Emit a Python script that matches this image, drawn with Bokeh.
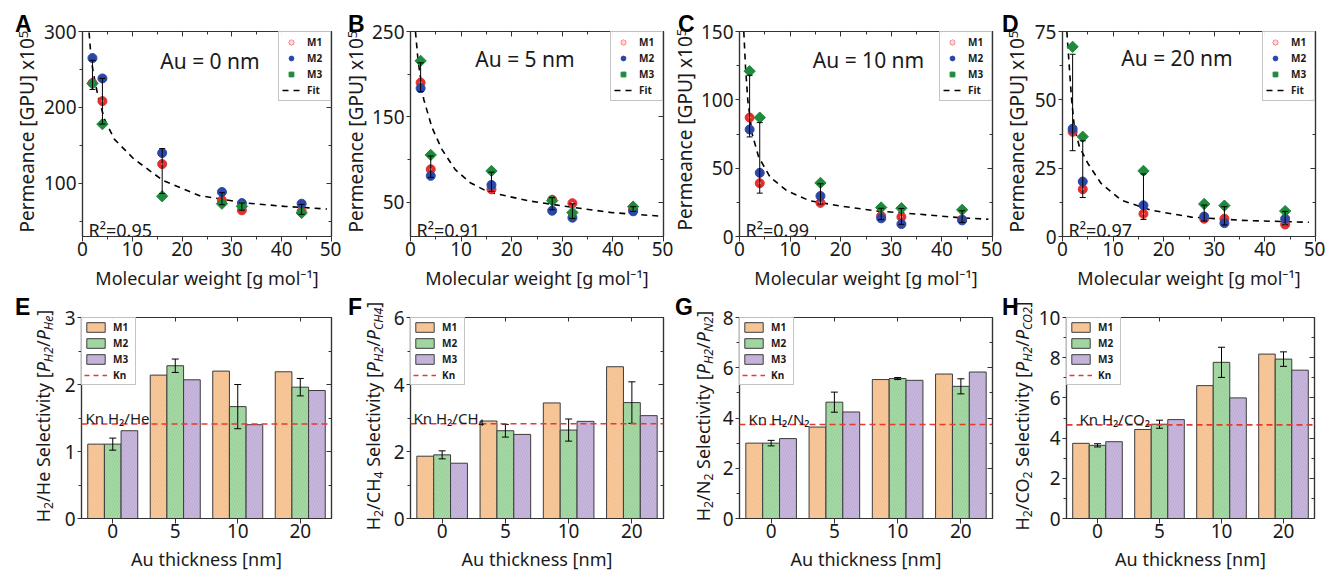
import math
import numpy as np
from bokeh.plotting import figure
from bokeh.layouts import row, column
from bokeh.models import (ColumnDataSource, Whisker, TeeHead, Label, Legend, LegendItem,
                          Span, FixedTicker, LinearAxis, CategoricalAxis, FactorRange, Range1d,
                          CustomLabelingPolicy, Div)
from bokeh.transform import dodge
from bokeh.embed import file_html
from bokeh.resources import INLINE

FONT = "Noto Sans"
LFONT = "Liberation Sans"
TXT = "#1a1a1a"
AX = "#333333"

# ---------------- permeance vs molecular weight (A-D) ----------------
mol_weight = [2, 4, 16, 28, 32, 44]
mw_lim = [0, 50]
mw_ticks = [0, 10, 20, 30, 40, 50]
mw_minor = [5, 15, 25, 35, 45]
au_titles = ["Au = 0 nm", "Au = 5 nm", "Au = 10 nm", "Au = 20 nm"]
r2_labels = ["R²=0.95", "R²=0.91", "R²=0.99", "R²=0.97"]
perm_ylabel_html = "Permeance [GPU] x10<sup style='font-size:70%;line-height:0;vertical-align:0.45em'>5</sup>"
mw_xlabel = "Molecular weight [g mol⁻¹]"

perm0_m1 = [232.0, 208.3, 125.4, 77.6, 64.5, 63.0]
perm0_m2 = [265.0, 238.2, 140.0, 88.6, 74.0, 73.2]
perm0_m3 = [231.6, 178.0, 83.0, 73.2, 69.7, 61.0]
fit0_x = [1.32, 1.64, 2.1, 3.09, 4.41, 6.38, 10.33, 16.25, 23.5, 32.7, 40.6, 49.1]
fit0_y = [298.7, 272.4, 248.2, 215.4, 184.6, 158.3, 132.0, 103.5, 83.8, 74.1, 69.7, 66.2]
ylim0 = [30, 300]
yticks0 = [100, 200, 300]
yminor0 = [50, 150, 250]

perm5_m1 = [190.2, 88.7, 65.2, 53.0, 49.0, 42.0]
perm5_m2 = [183.6, 81.0, 70.3, 40.2, 32.0, 39.5]
perm5_m3 = [215.6, 105.5, 86.7, 52.0, 38.0, 45.0]
fit5_x = [0.98, 1.44, 1.83, 2.61, 4.25, 6.2, 8.8, 11.8, 15.4, 19.0, 23.5, 30.1, 39.9, 49.0]
fit5_y = [250.0, 219.5, 202.0, 170.7, 137.5, 112.0, 88.7, 73.0, 62.0, 57.4, 51.6, 45.7, 37.9, 34.0]
ylim5 = [10, 250]
yticks5 = [50, 150, 250]
yminor5 = [100, 200]

perm10_m1 = [87.0, 39.0, 24.6, 15.0, 14.3, 12.5]
perm10_m2 = [78.3, 46.6, 29.6, 13.3, 9.1, 11.8]
perm10_m3 = [121.0, 87.0, 39.2, 21.2, 20.7, 19.5]
fit10_x = [0.85, 1.18, 1.63, 2.48, 3.79, 6.08, 9.35, 13.9, 19.8, 27.0, 35.5, 43.3, 49.2]
fit10_y = [150.0, 124.6, 100.0, 75.4, 58.1, 43.3, 33.5, 26.1, 22.4, 18.7, 16.3, 13.8, 12.6]
ylim10 = [0, 150]
yticks10 = [0, 50, 100, 150]
yminor10 = [25, 75, 125]

perm20_m1 = [38.3, 17.3, 8.3, 6.5, 6.5, 4.4]
perm20_m2 = [39.4, 20.1, 11.4, 7.3, 4.9, 6.5]
perm20_m3 = [69.4, 36.5, 24.0, 11.9, 11.3, 9.3]
fit20_x = [0.86, 1.32, 1.79, 2.32, 3.31, 4.97, 7.62, 11.6, 17.5, 25.5, 35.4, 48.7]
fit20_y = [75.0, 62.7, 50.3, 40.4, 33.0, 26.9, 19.4, 13.3, 9.6, 7.1, 5.9, 5.2]
ylim20 = [0, 75]
yticks20 = [0, 25, 50, 75]
yminor20 = [12.5, 37.5, 62.5]

# ---------------- selectivity bars (E-H) ----------------
au_cats = ["0", "5", "10", "20"]
au_xlabel = "Au thickness [nm]"

he_m1 = [1.11, 2.14, 2.20, 2.19]
he_m2 = [1.11, 2.28, 1.67, 1.96]
he_m2_err = [0.09, 0.10, 0.33, 0.13]
he_m3 = [1.31, 2.07, 1.40, 1.91]
kn_he = 1.41

ch4_m1 = [1.86, 2.91, 3.45, 4.53]
ch4_m2 = [1.90, 2.62, 2.64, 3.46]
ch4_m2_err = [0.12, 0.19, 0.33, 0.62]
ch4_m3 = [1.65, 2.51, 2.90, 3.07]
kn_ch4 = 2.83

n2_m1 = [3.00, 3.64, 5.53, 5.75]
n2_m2 = [3.00, 4.63, 5.57, 5.26]
n2_m2_err = [0.11, 0.40, 0.04, 0.30]
n2_m3 = [3.18, 4.24, 5.50, 5.83]
kn_n2 = 3.74

co2_m1 = [3.74, 4.43, 6.61, 8.18]
co2_m2 = [3.64, 4.69, 7.77, 7.93]
co2_m2_err = [0.08, 0.20, 0.75, 0.36]
co2_m3 = [3.82, 4.92, 6.00, 7.38]
kn_co2 = 4.66

RED, BLUE, GREEN = "#e3302f", "#2c48a6", "#1f8a3c"
BAR_C = ["#f9c99b", "#a7d9a7", "#c9b8dd"]
HATCH_C = ["#d9a070", "#6fb56f", "#9b86bd"]
KN_C = "#e8392f"

TOP_BT, TOP_FH, TOP_BB = 31, 205, 57
BOT_BT, BOT_FH, BOT_BB = 24, 201, 56
TOP_H = TOP_BT + TOP_FH + TOP_BB
BOT_H = BOT_BT + BOT_FH + BOT_BB
RB = 10

NO_LABELS = CustomLabelingPolicy(code="""
const n = indices.size
for (let i = 0; i < n; i++) { indices.unset(i) }
return indices
""")

SUB = "<sub style='font-size:68%;line-height:0;vertical-align:-0.22em'>{}</sub>"


def sel_ylabel_html(gas_html, sub2):
    return (f"H{SUB.format('2')}/{gas_html} Selectivity [<i>P</i>{SUB.format('<i>H2</i>')}"
            f"/<i>P</i>{SUB.format('<i>' + sub2 + '</i>')}]")


def style_axes(p, label_standoff):
    for ax in p.xaxis + p.yaxis:
        ax.axis_line_color = AX
        ax.axis_line_width = 1.2
        ax.major_tick_line_color = AX
        ax.minor_tick_line_color = AX
        ax.major_tick_in = 0
        ax.minor_tick_out = 3
        ax.minor_tick_in = 0
        ax.major_label_text_font = FONT
        ax.major_label_text_font_size = "19px"
        ax.major_label_text_color = TXT
        ax.axis_label_text_font = FONT
        ax.axis_label_text_font_size = "18px"
        ax.axis_label_text_font_style = "normal"
        ax.axis_label_text_color = TXT
    for ax in p.yaxis:
        ax.major_tick_out = 4
        ax.major_label_standoff = 2
    for ax in p.xaxis:
        ax.major_tick_out = 5
        ax.major_label_standoff = 0
        ax.axis_label_standoff = label_standoff


def mirror(p, xt, yt, categorical=False):
    common = dict(major_label_text_font_size="0px", major_label_standoff=0,
                  major_label_policy=NO_LABELS, axis_line_color=AX,
                  major_tick_line_color=AX, axis_line_width=1.2)
    if categorical:
        top = CategoricalAxis(major_tick_in=4, major_tick_out=0, **common)
    else:
        top = LinearAxis(ticker=xt, major_tick_in=5, major_tick_out=0, minor_tick_in=3,
                         minor_tick_out=0, minor_tick_line_color=AX, **common)
    right = LinearAxis(ticker=yt, major_tick_in=5, major_tick_out=0, minor_tick_in=3,
                       minor_tick_out=0, minor_tick_line_color=AX, **common)
    p.add_layout(top, "above")
    p.add_layout(right, "right")


def base_fig(w, bl, h, bt, bb, xr, yr):
    p = figure(width=w, height=h, x_range=xr, y_range=yr, output_backend="svg",
               toolbar_location=None, min_border_left=bl, min_border_right=RB,
               min_border_top=bt, min_border_bottom=bb, title=None)
    p.grid.visible = False
    p.outline_line_color = AX
    p.outline_line_width = 1.2
    p.background_fill_color = "white"
    return p


def vtext(inner, xb, yc, fs, L):
    # rotated text reading upward; xb = baseline x, yc = centre y (div pixels)
    xc = xb - 0.388 * fs
    left = xc - L / 2
    top = yc - fs / 2
    return (f"<div style=\"position:absolute;left:{left:.1f}px;top:{top:.1f}px;width:{L}px;"
            f"height:{fs}px;line-height:{fs}px;text-align:center;white-space:nowrap;"
            f"transform:rotate(-90deg);transform-origin:50% 50%;font-family:'{FONT}';"
            f"font-size:{fs}px;color:{TXT};\">{inner}</div>")


def letter(txt, x, base_y, fs=23):
    top = base_y - 0.8465 * fs
    return (f"<div style=\"position:absolute;left:{x}px;top:{top:.1f}px;line-height:{fs}px;"
            f"font-family:'{LFONT}';font-weight:bold;font-size:{fs}px;color:black;"
            f"white-space:nowrap;\">{txt}</div>")


def label_div(w, h, parts):
    html = (f"<div style=\"position:relative;width:{w}px;height:{h}px;overflow:hidden;\">"
            + "".join(parts) + "</div>")
    return Div(text=html, width=w, height=h, margin=(0, 0, 0, 0))


def perm_panel(i, w, bl, m1, m2, m3, fx, fy, ylim, yt, ym, title_cx, title_dy):
    fh = TOP_FH
    p = base_fig(w, bl, TOP_H, TOP_BT, TOP_BB, Range1d(*mw_lim), Range1d(*ylim))
    xt = FixedTicker(ticks=mw_ticks, minor_ticks=mw_minor)
    ytk = FixedTicker(ticks=yt, minor_ticks=ym)
    p.xaxis.ticker = xt
    p.yaxis.ticker = ytk
    p.xaxis.axis_label = mw_xlabel
    style_axes(p, 7)
    mirror(p, xt, ytk)

    fit = p.line(fx, fy, line_color="black", line_width=1.6, line_dash="6 5")
    r1 = p.scatter(mol_weight, m1, marker="circle", size=9, fill_color=RED, line_color=RED)
    r1h = p.scatter(mol_weight, m1, marker="circle", size=2.2, fill_color="#ffd8d8", line_color=None)
    r2 = p.scatter(mol_weight, m2, marker="circle", size=9, fill_color=BLUE, line_color=BLUE)
    r3 = p.scatter(mol_weight, m3, marker="square", size=8, angle=math.pi / 4,
                   fill_color=GREEN, line_color=GREEN)

    arr = np.array([m1, m2, m3])
    mean = arr.mean(axis=0)
    sd = arr.std(axis=0, ddof=1)
    esrc = ColumnDataSource(dict(x=mol_weight, lo=list(mean - sd), hi=list(mean + sd)))
    p.add_layout(Whisker(source=esrc, base="x", lower="lo", upper="hi", line_color="black",
                         line_width=1, level="annotation",
                         upper_head=TeeHead(size=6, line_color="black", line_width=1),
                         lower_head=TeeHead(size=6, line_color="black", line_width=1)))

    leg = Legend(items=[LegendItem(label="M1", renderers=[r1, r1h]),
                        LegendItem(label="M2", renderers=[r2]),
                        LegendItem(label="M3", renderers=[r3]),
                        LegendItem(label="Fit", renderers=[fit])],
                 location="top_right", margin=0, padding=3, spacing=2,
                 label_text_font=FONT, label_text_font_size="10px", label_text_font_style="bold",
                 label_text_color=TXT, glyph_width=18, glyph_height=12, label_height=12,
                 label_standoff=7, border_line_color="#8a8a8a", border_line_width=1)
    p.add_layout(leg)

    p.add_layout(Label(x=title_cx, y=fh - title_dy, x_units="screen", y_units="screen",
                       text=au_titles[i], text_align="center", text_baseline="alphabetic",
                       text_font=FONT, text_font_size="21px", text_color=TXT))
    p.add_layout(Label(x=6, y=7, x_units="screen", y_units="screen", text=r2_labels[i],
                       text_align="left", text_baseline="alphabetic", text_font=FONT,
                       text_font_size="18px", text_color=TXT))
    return p


def sel_panel(w, bl, m1, m2, err, m3, kn, ymax, yt, ym, kn_text, kn_dx):
    p = base_fig(w, bl, BOT_H, BOT_BT, BOT_BB, FactorRange(*au_cats), Range1d(0, ymax))
    ytk = FixedTicker(ticks=yt, minor_ticks=ym)
    p.yaxis.ticker = ytk
    p.xaxis.axis_label = au_xlabel
    style_axes(p, 6)
    mirror(p, None, ytk, categorical=True)

    lo = [a - b for a, b in zip(m2, err)]
    hi = [a + b for a, b in zip(m2, err)]
    src = ColumnDataSource(dict(cat=au_cats, m1=m1, m2=m2, m3=m3, lo=lo, hi=hi))
    bw = 0.2667
    rs = []
    for k, (col, off) in enumerate([("m1", -bw), ("m2", 0.0), ("m3", bw)]):
        r = p.vbar(x=dodge("cat", off, range=p.x_range), top=col, width=bw, source=src,
                   fill_color=BAR_C[k], line_color="#3c3c3c", line_width=1,
                   hatch_pattern="/", hatch_color=HATCH_C[k], hatch_scale=5,
                   hatch_weight=0.6, hatch_alpha=0.5)
        rs.append(r)
    p.add_layout(Whisker(source=src, base="cat", lower="lo", upper="hi", line_color="black",
                         line_width=1, level="annotation",
                         upper_head=TeeHead(size=7, line_color="black", line_width=1),
                         lower_head=TeeHead(size=7, line_color="black", line_width=1)))
    p.add_layout(Span(location=kn, dimension="width", line_color=KN_C, line_width=1.6,
                      line_dash="6 4"))
    knr = p.line(x=[au_cats[0], au_cats[-1]], y=[-ymax, -ymax], line_color=KN_C,
                 line_width=1.6, line_dash="5 4")

    leg = Legend(items=[LegendItem(label="M1", renderers=[rs[0]]),
                        LegendItem(label="M2", renderers=[rs[1]]),
                        LegendItem(label="M3", renderers=[rs[2]]),
                        LegendItem(label="Kn", renderers=[knr])],
                 location="top_left", margin=0, padding=2, spacing=2,
                 label_text_font=FONT, label_text_font_size="10px", label_text_font_style="bold",
                 label_text_color=TXT, glyph_width=23, glyph_height=12, label_height=12,
                 label_standoff=6, border_line_color="#8a8a8a", border_line_width=1)
    p.add_layout(leg)

    p.add_layout(Label(x=kn_dx, y=kn, y_offset=6, x_units="screen", y_units="data",
                       text=kn_text, text_align="left", text_baseline="alphabetic",
                       text_font=FONT, text_font_size="15px", text_color=TXT))
    return p


def top_div(w, let, lx, base_x, yc):
    return label_div(w, TOP_H, [letter(let, lx, 32), vtext(perm_ylabel_html, base_x, yc, 19, 250)])


def bot_div(w, let, lx, let_base_page, gas_html, sub2, base_x):
    y0 = TOP_H
    return label_div(w, BOT_H, [letter(let, lx, let_base_page - y0),
                                vtext(sel_ylabel_html(gas_html, sub2), base_x, 416 - y0, 18, 246)])


la = top_div(40, "A", 15, 34.5, 131)
pa = perm_panel(0, 301, 41, perm0_m1, perm0_m2, perm0_m3, fit0_x, fit0_y, ylim0, yticks0, yminor0, 127.5, 29)
lb = top_div(27, "B", 7, 22, 131)
pb = perm_panel(1, 305, 42, perm5_m1, perm5_m2, perm5_m3, fit5_x, fit5_y, ylim5, yticks5, yminor5, 114.5, 27)
lc = top_div(24, "C", 5, 19.5, 129)
pc = perm_panel(2, 305, 41, perm10_m1, perm10_m2, perm10_m3, fit10_x, fit10_y, ylim10, yticks10, yminor10, 129, 28)
ld = top_div(28, "D", 0, 22, 131)
pd = perm_panel(3, 295, 32, perm20_m1, perm20_m2, perm20_m3, fit20_x, fit20_y, ylim20, yticks20, yminor20, 114.5, 26)

le = bot_div(59, "E", 15, 315, "He", "He", 50)
pe = sel_panel(282, 22, he_m1, he_m2, he_m2_err, he_m3, kn_he, 3, [0, 1, 2, 3], [0.5, 1.5, 2.5], "Kn H₂/He", 4)
lf = bot_div(47, "F", 7, 315, f"CH{SUB.format('4')}", "CH4", 39)
pf = sel_panel(285, 22, ch4_m1, ch4_m2, ch4_m2_err, ch4_m3, kn_ch4, 6, [0, 2, 4, 6], [1, 3, 5], "Kn H₂/CH₄", 3)
lg = bot_div(44, "G", 2, 315, f"N{SUB.format('2')}", "N2", 37)
pg = sel_panel(285, 22, n2_m1, n2_m2, n2_m2_err, n2_m3, kn_n2, 8, [0, 2, 4, 6, 8], [1, 3, 5, 7], "Kn H₂/N₂", 9)
lh = bot_div(33, "H", 0, 315, f"CO{SUB.format('2')}", "CO2", 27)
ph = sel_panel(289, 28, co2_m1, co2_m2, co2_m2_err, co2_m3, kn_co2, 10, [0, 2, 4, 6, 8, 10], [1, 3, 5, 7, 9], "Kn H₂/CO₂", 13)

layout = column(row(la, pa, lb, pb, lc, pc, ld, pd), row(le, pe, lf, pf, lg, pg, lh, ph))
open("out.html", "w").write(file_html(layout, INLINE))
